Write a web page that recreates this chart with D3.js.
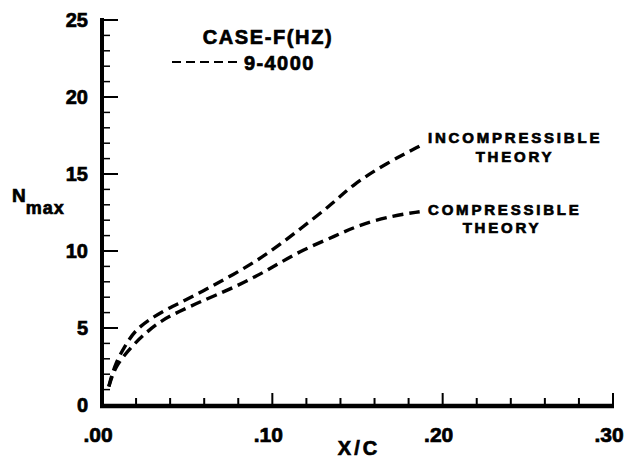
<!DOCTYPE html>
<html>
<head>
<meta charset="utf-8">
<script src="https://cdn.jsdelivr.net/npm/d3@7"></script>
<style>
  html, body { margin: 0; padding: 0; background: #fff; }
  svg { display: block; }
  text { font-family: "Liberation Sans", Arial, Helvetica, sans-serif; font-weight: bold; fill: #000;
         stroke: #000; stroke-width: 0.7px; }
</style>
</head>
<body>
<svg id="chart" width="628" height="462"></svg>
<script>
// N_max vs X/C for case F (9-4000 Hz)
const incompressibleX = [0.004, 0.0076, 0.0154, 0.020, 0.027, 0.037, 0.047, 0.0575, 0.077, 0.0966, 0.116, 0.1357, 0.147, 0.167, 0.188];
const incompressibleN = [1.2, 2.7, 4.2, 4.87, 5.5, 6.17, 6.7, 7.3, 8.45, 9.75, 11.4, 13.1, 14.3, 15.7, 16.9];
const compressibleX = [0.004, 0.0076, 0.0174, 0.0252, 0.035, 0.045, 0.0575, 0.077, 0.0966, 0.116, 0.1376, 0.151, 0.171, 0.1865];
const compressibleN = [1.2, 2.5, 3.8, 4.65, 5.5, 6.05, 6.7, 7.6, 8.7, 10.0, 11.0, 11.7, 12.3, 12.55];

const xTickValues = [0, 0.10, 0.20, 0.30];
const xTickLabels = [".00", ".10", ".20", ".30"];
const yTickValues = [0, 5, 10, 15, 20, 25];
const yTickLabels = ["0", "5", "10", "15", "20", "25"];

const svg = d3.select("#chart");
const x = d3.scaleLinear().domain([0, 0.30]).range([102, 613]);
const y = d3.scaleLinear().domain([0, 25]).range([405, 20]);

// Y axis: spine, minor ticks every 1, major every 5
const gy = svg.append("g");
gy.append("line").attr("x1", x(0)).attr("x2", x(0)).attr("y1", y(25) - 2).attr("y2", y(0) + 2)
  .attr("stroke", "#000").attr("stroke-width", 4);
d3.range(1, 26).forEach(v => {
  const major = v % 5 === 0;
  gy.append("line").attr("x1", x(0)).attr("x2", x(0) + (major ? 16 : 8))
    .attr("y1", y(v)).attr("y2", y(v)).attr("stroke", "#000").attr("stroke-width", major ? 2 : 1.5);
});
gy.selectAll("text.ytick").data(yTickValues).join("text")
  .attr("class", "ytick")
  .attr("x", 88).attr("y", d => y(d) + 7)
  .attr("text-anchor", "end").style("font-size", "20px")
  .text((d, i) => yTickLabels[i]);

// X axis: spine, minor ticks every .02, major every .10
const gx = svg.append("g");
gx.append("line").attr("x1", x(0) - 2).attr("x2", x(0.30) + 1).attr("y1", y(0) + 1).attr("y2", y(0) + 1)
  .attr("stroke", "#000").attr("stroke-width", 4.5);
d3.range(1, 16).forEach(i => {
  const v = i * 0.02;
  const major = i % 5 === 0;
  gx.append("line").attr("x1", x(v)).attr("x2", x(v))
    .attr("y1", y(0)).attr("y2", y(0) - (major ? 12 : 7))
    .attr("stroke", "#000").attr("stroke-width", 2);
});
gx.selectAll("text.xtick").data(xTickValues).join("text")
  .attr("class", "xtick")
  .attr("x", d => x(d) - 4).attr("y", 442)
  .attr("text-anchor", "middle").style("font-size", "21px")
  .text((d, i) => xTickLabels[i]);

// Axis titles
svg.append("text").attr("x", 359).attr("y", 455).attr("text-anchor", "middle")
  .style("font-size", "20px").attr("letter-spacing", 3).text("X/C");
const yt = svg.append("text").attr("x", 12).attr("y", 202).style("font-size", "19px");
yt.append("tspan").text("N");
yt.append("tspan").attr("dy", 12).style("font-size", "18px").attr("letter-spacing", 1).text("max");

// Curves (smoothed B-spline through the read-off points)
const line = d3.line().x(d => x(d[0])).y(d => y(d[1])).curve(d3.curveBasis);
const incompressible = incompressibleX.map((v, i) => [v, incompressibleN[i]]);
const compressible = compressibleX.map((v, i) => [v, compressibleN[i]]);
[incompressible, compressible].forEach(data => {
  svg.append("path").datum(data).attr("d", line)
    .attr("fill", "none").attr("stroke", "#000").attr("stroke-width", 3.4)
    .attr("stroke-dasharray", "11,6");
});

// Curve labels
const lab = (tx, ty, s, anchor) => svg.append("text").attr("x", tx).attr("y", ty)
  .attr("text-anchor", anchor).style("font-size", "15px").attr("letter-spacing", 2.8).text(s);
lab(428, 143, "INCOMPRESSIBLE", "start");
lab(515, 162, "THEORY", "middle");
lab(428, 215, "COMPRESSIBLE", "start");
lab(502, 233, "THEORY", "middle");

// Legend
svg.append("text").attr("x", 268).attr("y", 44).attr("text-anchor", "middle")
  .style("font-size", "20px").attr("letter-spacing", 1.6).text("CASE-F(HZ)");
svg.append("line").attr("x1", 172).attr("x2", 242).attr("y1", 62).attr("y2", 62)
  .attr("stroke", "#000").attr("stroke-width", 2.2).attr("stroke-dasharray", "9,5");
svg.append("text").attr("x", 244).attr("y", 70)
  .style("font-size", "20px").attr("letter-spacing", 1.4).text("9-4000");
</script>
</body>
</html>
